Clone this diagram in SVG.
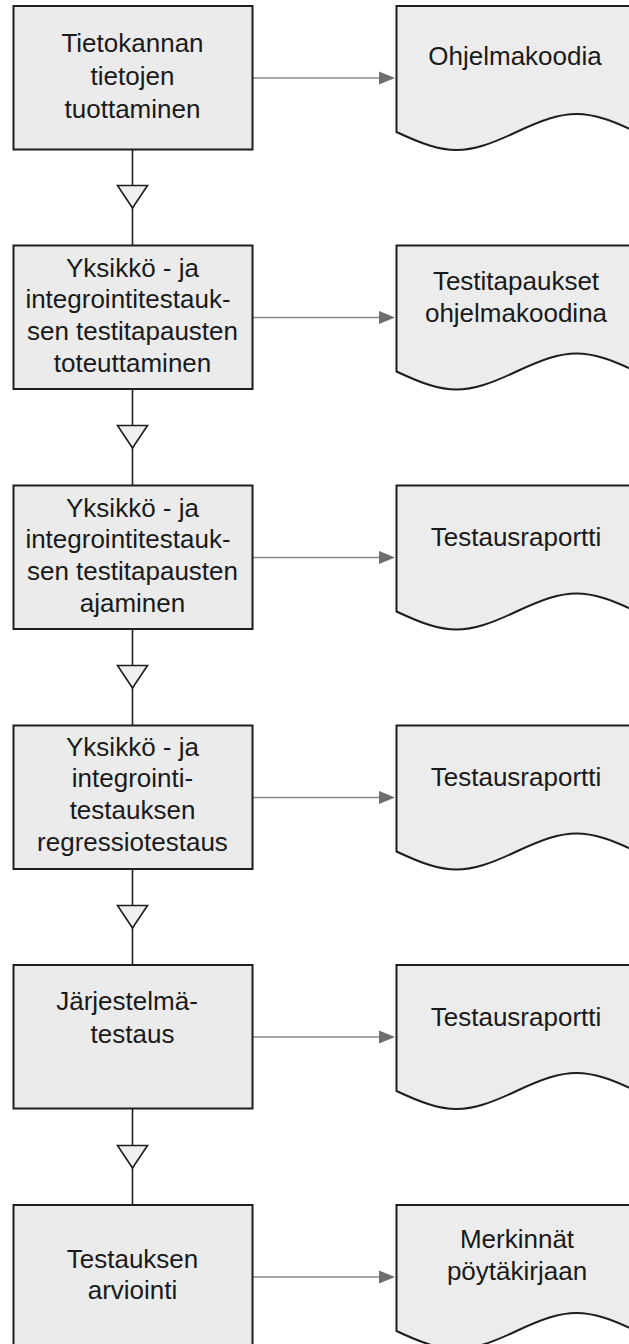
<svg xmlns="http://www.w3.org/2000/svg" width="629" height="1344" viewBox="0 0 629 1344">
<defs>
<style>
.box{fill:#ebebeb;stroke:#1e1e1e;stroke-width:2}
.doc{fill:#ececec;stroke:#1e1e1e;stroke-width:2;stroke-linejoin:miter}
.t{font-family:"Liberation Sans",Arial,sans-serif;font-size:26px;fill:#1a1a1a;text-anchor:middle}
.flow{stroke:#1e1e1e;stroke-width:1.6;fill:none}
.tri{fill:#efefef;stroke:#1e1e1e;stroke-width:1.6;stroke-linejoin:miter}
.out{stroke:#8a8a8a;stroke-width:1.6;fill:none}
.head{fill:#6e6e6e}
</style>
<path id="docshape" d="M0,0 H240 V126 C189,102 171,102 120,126 C69,150 51,150 0,126 Z"/>
<path id="ah" d="M-16,-6.5 L0,0 L-16,6.5 Z"/>
</defs>

<g id="connectors">
  <!-- vertical flow connectors with hollow triangles -->
  <line class="flow" x1="132.5" y1="149.5" x2="132.5" y2="245.5"/>
  <polygon class="tri" points="117.5,185.5 147.5,185.5 132.5,208"/>
  <line class="flow" x1="132.5" y1="389" x2="132.5" y2="485.5"/>
  <polygon class="tri" points="117.5,425.5 147.5,425.5 132.5,448"/>
  <line class="flow" x1="132.5" y1="629" x2="132.5" y2="725.5"/>
  <polygon class="tri" points="117.5,665.5 147.5,665.5 132.5,688"/>
  <line class="flow" x1="132.5" y1="869" x2="132.5" y2="965"/>
  <polygon class="tri" points="117.5,905.5 147.5,905.5 132.5,928"/>
  <line class="flow" x1="132.5" y1="1108.5" x2="132.5" y2="1205"/>
  <polygon class="tri" points="117.5,1145.5 147.5,1145.5 132.5,1168"/>
  <!-- output arrows -->
  <line class="out" x1="253" y1="78" x2="382" y2="78"/>
  <use href="#ah" class="head" transform="translate(395,78)"/>
  <line class="out" x1="253" y1="317.5" x2="382" y2="317.5"/>
  <use href="#ah" class="head" transform="translate(395,317.5)"/>
  <line class="out" x1="253" y1="557.5" x2="382" y2="557.5"/>
  <use href="#ah" class="head" transform="translate(395,557.5)"/>
  <line class="out" x1="253" y1="797.5" x2="382" y2="797.5"/>
  <use href="#ah" class="head" transform="translate(395,797.5)"/>
  <line class="out" x1="253" y1="1037" x2="382" y2="1037"/>
  <use href="#ah" class="head" transform="translate(395,1037)"/>
  <line class="out" x1="253" y1="1277" x2="382" y2="1277"/>
  <use href="#ah" class="head" transform="translate(395,1277)"/>
</g>

<g id="p1">
  <rect class="box" x="13.5" y="6" width="239" height="143.5"/>
  <text class="t" x="132.5" y="52">Tietokannan</text>
  <text class="t" x="132.5" y="85">tietojen</text>
  <text class="t" x="132.5" y="118">tuottaminen</text>
</g>
<g id="p2">
  <rect class="box" x="13.5" y="245.5" width="239" height="143.5"/>
  <text class="t" x="132.5" y="277">Yksikkö - ja</text>
  <text class="t" x="128" y="308">integrointitestauk-</text>
  <text class="t" x="132.5" y="340">sen testitapausten</text>
  <text class="t" x="132.5" y="372">toteuttaminen</text>
</g>
<g id="p3">
  <rect class="box" x="13.5" y="485.5" width="239" height="143.5"/>
  <text class="t" x="132.5" y="517">Yksikkö - ja</text>
  <text class="t" x="128" y="548">integrointitestauk-</text>
  <text class="t" x="132.5" y="580">sen testitapausten</text>
  <text class="t" x="132.5" y="612">ajaminen</text>
</g>
<g id="p4">
  <rect class="box" x="13.5" y="725.5" width="239" height="143.5"/>
  <text class="t" x="132.5" y="756">Yksikkö - ja</text>
  <text class="t" x="132.5" y="787">integrointi-</text>
  <text class="t" x="132.5" y="819">testauksen</text>
  <text class="t" x="132.5" y="851">regressiotestaus</text>
</g>
<g id="p5">
  <rect class="box" x="13.5" y="965" width="239" height="143.5"/>
  <text class="t" x="127" y="1010">Järjestelmä-</text>
  <text class="t" x="132.5" y="1043">testaus</text>
</g>
<g id="p6">
  <rect class="box" x="13.5" y="1205" width="239" height="143.5"/>
  <text class="t" x="132.5" y="1268">Testauksen</text>
  <text class="t" x="132.5" y="1299">arviointi</text>
</g>

<g id="d1">
  <use href="#docshape" class="doc" transform="translate(396.5,6)"/>
  <text class="t" x="515" y="65">Ohjelmakoodia</text>
</g>
<g id="d2">
  <use href="#docshape" class="doc" transform="translate(396.5,245.5)"/>
  <text class="t" x="516" y="290">Testitapaukset</text>
  <text class="t" x="516" y="322">ohjelmakoodina</text>
</g>
<g id="d3">
  <use href="#docshape" class="doc" transform="translate(396.5,485.5)"/>
  <text class="t" x="516" y="546">Testausraportti</text>
</g>
<g id="d4">
  <use href="#docshape" class="doc" transform="translate(396.5,725.5)"/>
  <text class="t" x="516" y="786">Testausraportti</text>
</g>
<g id="d5">
  <use href="#docshape" class="doc" transform="translate(396.5,965)"/>
  <text class="t" x="516" y="1026">Testausraportti</text>
</g>
<g id="d6">
  <use href="#docshape" class="doc" transform="translate(396.5,1205)"/>
  <text class="t" x="517" y="1248">Merkinnät</text>
  <text class="t" x="517" y="1280">pöytäkirjaan</text>
</g>
</svg>
